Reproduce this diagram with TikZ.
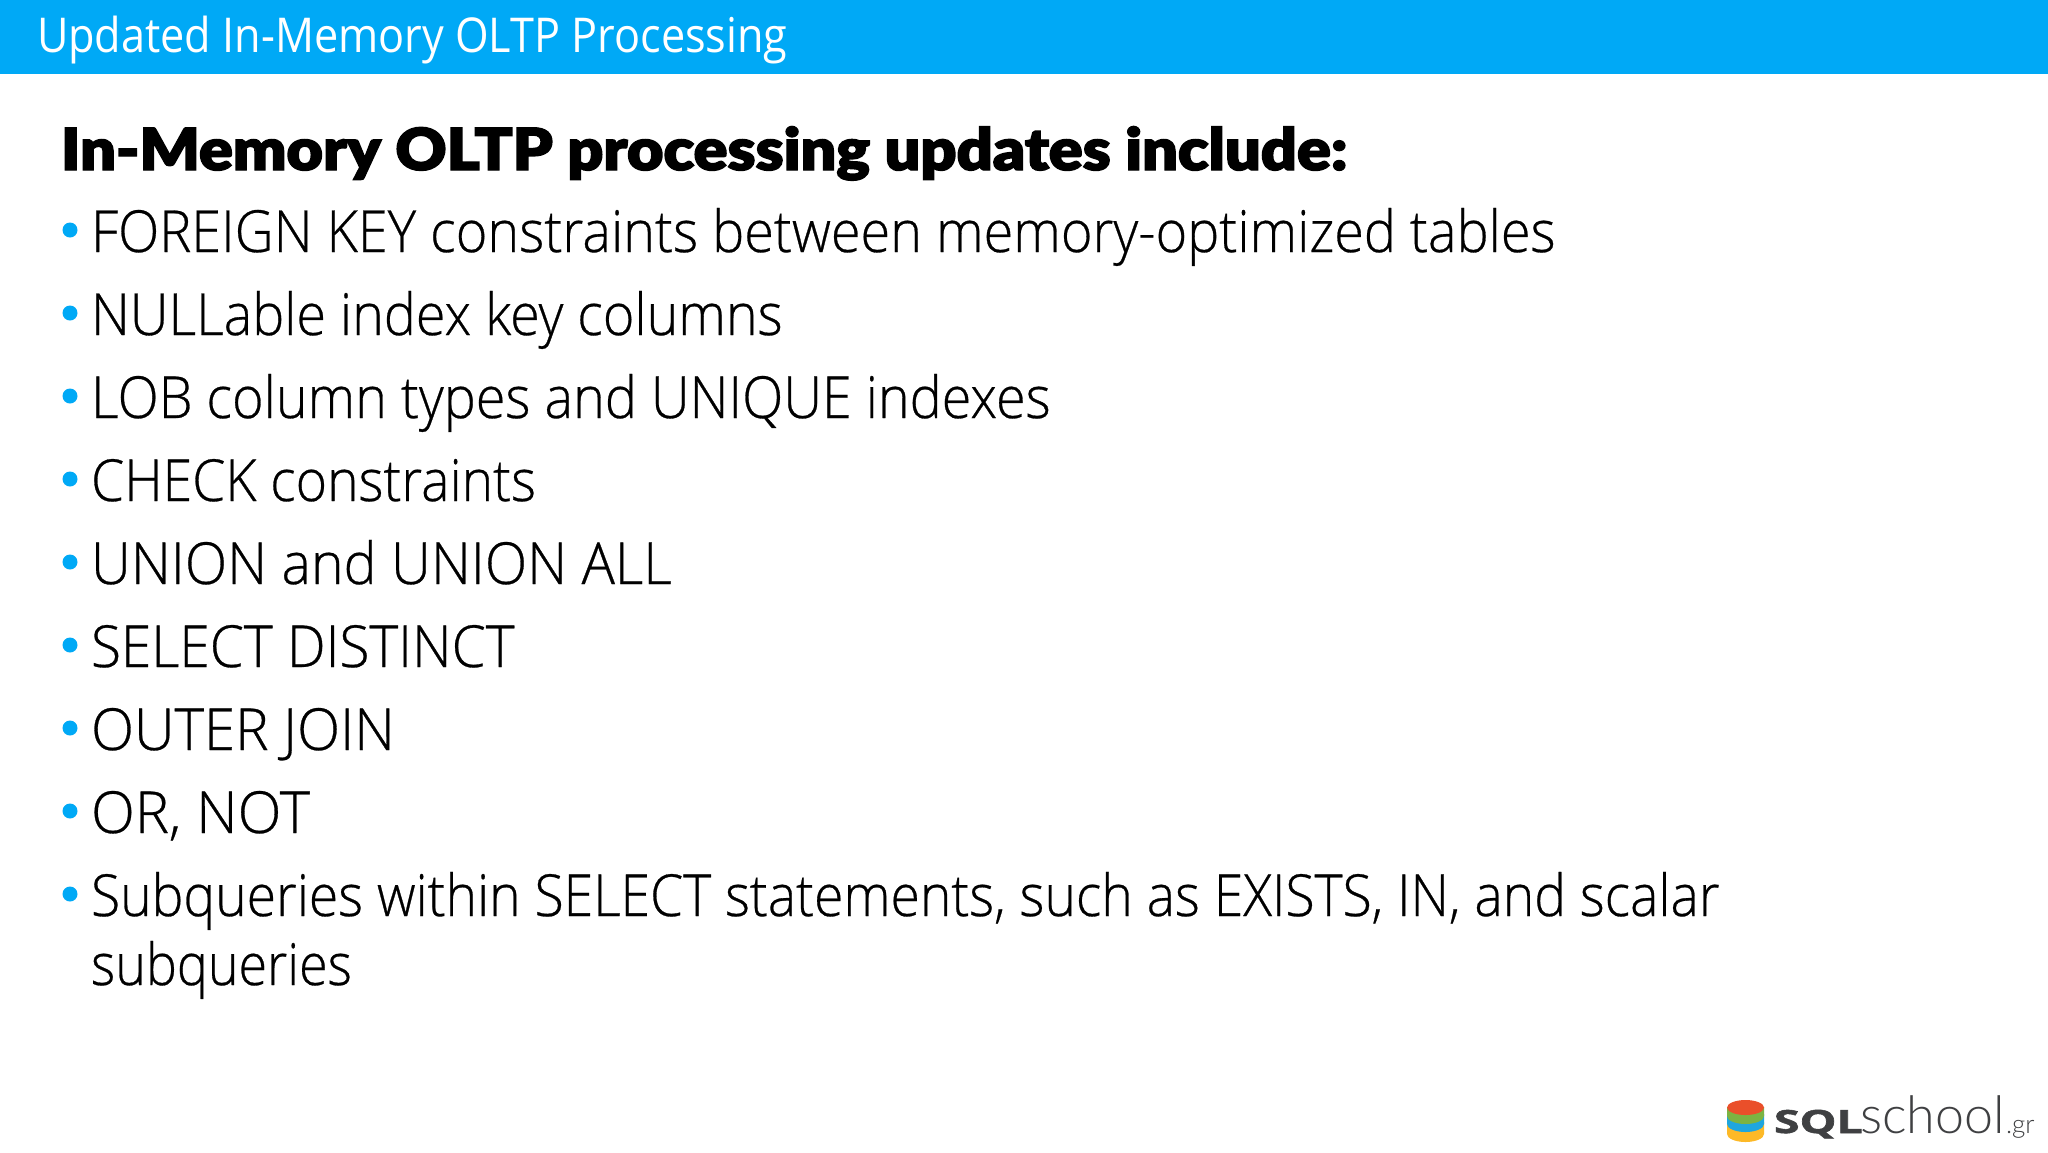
\documentclass[tikz,border=0pt]{standalone}
\usepackage{fontspec}
\setmainfont[RawFeature={embolden=0.5}]{Open Sans Light}
\newfontfamily\titlefont{Open Sans}
\newfontfamily\heavyfont[RawFeature={embolden=2.5}]{Lato Black}
\newfontfamily\logofont[RawFeature={embolden=1.5}]{Open Sans Bold}
\newfontfamily\thinfont{Lato Light}
\definecolor{barblue}{HTML}{00A9F6}
\definecolor{logogray}{HTML}{3F4042}
\definecolor{logored}{HTML}{EA4F2A}
\definecolor{logogreen}{HTML}{7CB342}
\definecolor{logoblue}{HTML}{1FA6DE}
\definecolor{logoyellow}{HTML}{FDB927}
\newcommand{\fitx}[3]{\scalebox{#1}[1]{\fontsize{#2}{#2}\selectfont #3}}
\tikzset{
  px/.style={x=0.5pt,y=-0.5pt},
  txt/.style={anchor=base west,inner sep=0pt,outer sep=0pt},
  bul/.style={circle,fill=barblue,inner sep=0pt,minimum size=7.5pt},
}
\begin{document}
\begin{tikzpicture}[px]
\useasboundingbox (0,0) rectangle (2048,1152);
\fill[white] (0,0) rectangle (2048,1152);
\fill[barblue] (0,0) rectangle (2048,74);
\node[txt,text=white] (title) at (37,52) {\fitx{0.9}{24}{\titlefont Updated In-Memory OLTP Processing}};
\node[txt] (head) at (61,170) {\fitx{1.085}{29}{\heavyfont In-Memory OLTP processing updates include:}};
\foreach \n/\yy/\sx/\tt in {
 a/252/.930/{FOREIGN KEY constraints between memory-optimized tables},
 b/335/.928/{NULLable index key columns},
 c/418/.929/{LOB column types and UNIQUE indexes},
 d/501/.922/{CHECK constraints},
 e/584/.956/{UNION and UNION ALL},
 f/667/.947/{SELECT DISTINCT},
 g/750/.971/{OUTER JOIN},
 h/833/.990/{OR, NOT},
 i/916/.921/{Subqueries within SELECT statements, such as EXISTS, IN, and scalar}}{
  \node[bul] (dot\n) at (70,\yy-22) {};
  \node[txt] (line\n) at (91,\yy) {\fitx{\sx}{29}{\tt}};
}
\node[txt] (linej) at (91,985) {\fitx{0.897}{29}{subqueries}};
% logo
\foreach \c/\top/\bot in {logoyellow/1122/1134,logoblue/1114/1124,logogreen/1107/1116}{
  \fill[\c] (1727,\top) -- (1727,\bot) arc[start angle=180,end angle=0,x radius=18.5,y radius=8] -- (1764,\top) -- cycle;
}
\fill[logored] (1745.5,1107.5) ellipse[x radius=18.5,y radius=7.5];
\node[txt,text=logogray] (sql) at (1774,1133) {\scalebox{1.45}[1]{\fontsize{16}{16}\logofont SQL}};
\node[txt,text=logogray] (school) at (1860,1133) {\fontsize{26}{26}\thinfont school};
\node[txt,text=logogray] (gr) at (2006,1133) {\fontsize{13}{13}\thinfont .gr};
\end{tikzpicture}
\end{document}
